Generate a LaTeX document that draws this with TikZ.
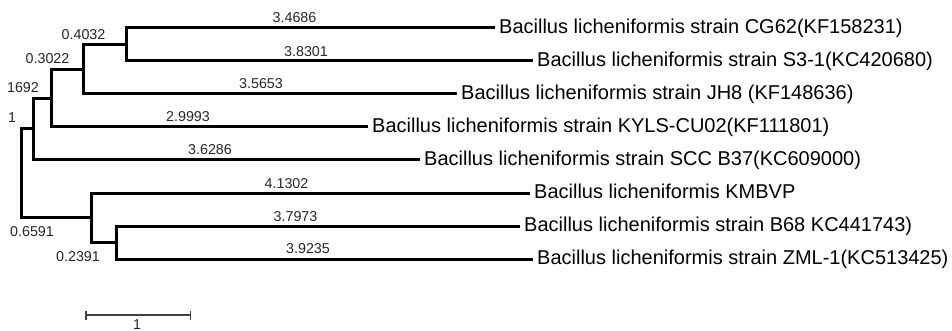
\documentclass[tikz,border=0pt]{standalone}
\usepackage{fontspec}
\setmainfont{Liberation Sans}
\usetikzlibrary{arrows.meta}
\begin{document}
\begin{tikzpicture}[x=1pt,y=-1pt,
  branch/.style={line width=3pt,draw=black},
  leaf/.style={anchor=west,inner xsep=4pt,inner ysep=0pt,text height=14.3pt,text depth=4pt,font=\fontsize{20}{24}\selectfont},
  blen/.style={inner sep=0pt,text height=10pt,text depth=0pt,text=black!85,font=\fontsize{14.3}{16}\selectfont},
  scalebar/.style={line width=1.5pt,draw=black!75}]
\useasboundingbox (0,0) rectangle (952,331);
% internal nodes
\coordinate (root) at (21,173.4);
\coordinate (nD) at (33,129);
\coordinate (nC) at (51,98.1);
\coordinate (nB) at (83,69.25);
\coordinate (nA) at (126,44.5);
\coordinate (nE) at (91,217.75);
\coordinate (nF) at (116,242.5);
% leaves
\node[leaf] (l1) at (495,28) {Bacillus licheniformis strain CG62(KF158231)};
\node[leaf] (l2) at (533,61) {Bacillus licheniformis strain S3-1(KC420680)};
\node[leaf] (l3) at (457,94) {Bacillus licheniformis strain JH8 (KF148636)};
\node[leaf] (l4) at (368,127) {Bacillus licheniformis strain KYLS-CU02(KF111801)};
\node[leaf] (l5) at (420,160) {Bacillus licheniformis strain SCC B37(KC609000)};
\node[leaf] (l6) at (530,193) {Bacillus licheniformis KMBVP};
\node[leaf] (l7) at (520,226) {Bacillus licheniformis strain B68 KC441743)};
\node[leaf] (l8) at (533,259) {Bacillus licheniformis strain ZML-1(KC513425)};
% branches
\draw[branch] (root) |- (nD);
\draw[branch] (root) |- (nE);
\draw[branch] (nD) |- (nC);
\draw[branch] (nD) |- (l5.west);
\draw[branch] (nC) |- (nB);
\draw[branch] (nC) |- (l4.west);
\draw[branch] (nB) |- (nA);
\draw[branch] (nB) |- (l3.west);
\draw[branch] (nA) |- (l1.west);
\draw[branch] (nA) |- (l2.west);
\draw[branch] (nE) |- (l6.west);
\draw[branch] (nE) |- (nF);
\draw[branch] (nF) |- (l7.west);
\draw[branch] (nF) |- (l8.west);
% branch length labels
\node[blen] (b1) at (294.5,18) {3.4686};
\node[blen] (b2) at (306,51.5) {3.8301};
\node[blen] (b3) at (261,83.5) {3.5653};
\node[blen] (b4) at (188,116.5) {2.9993};
\node[blen] (b5) at (210,149.5) {3.6286};
\node[blen] (b6) at (286.5,183) {4.1302};
\node[blen] (b7) at (295.5,216) {3.7973};
\node[blen] (b8) at (308,248.5) {3.9235};
% internal node labels
\node[blen] (iA) at (83.5,35) {0.4032};
\node[blen] (iB) at (47.5,59) {0.3022};
\node[blen] (iC) at (23,88) {1692};
\node[blen] (iD) at (12,118) {1};
\node[blen] (iE) at (32,231) {0.6591};
\node[blen] (iF) at (78,256) {0.2391};
% scale bar
\coordinate (sL) at (85,315);
\coordinate (sR) at (191,315);
\draw[scalebar,{Bar[width=9pt]}-{Bar[width=9pt]}] (sL) -- (sR);
\node[blen] (sl) at (137,324.5) {1};
\end{tikzpicture}
\end{document}
